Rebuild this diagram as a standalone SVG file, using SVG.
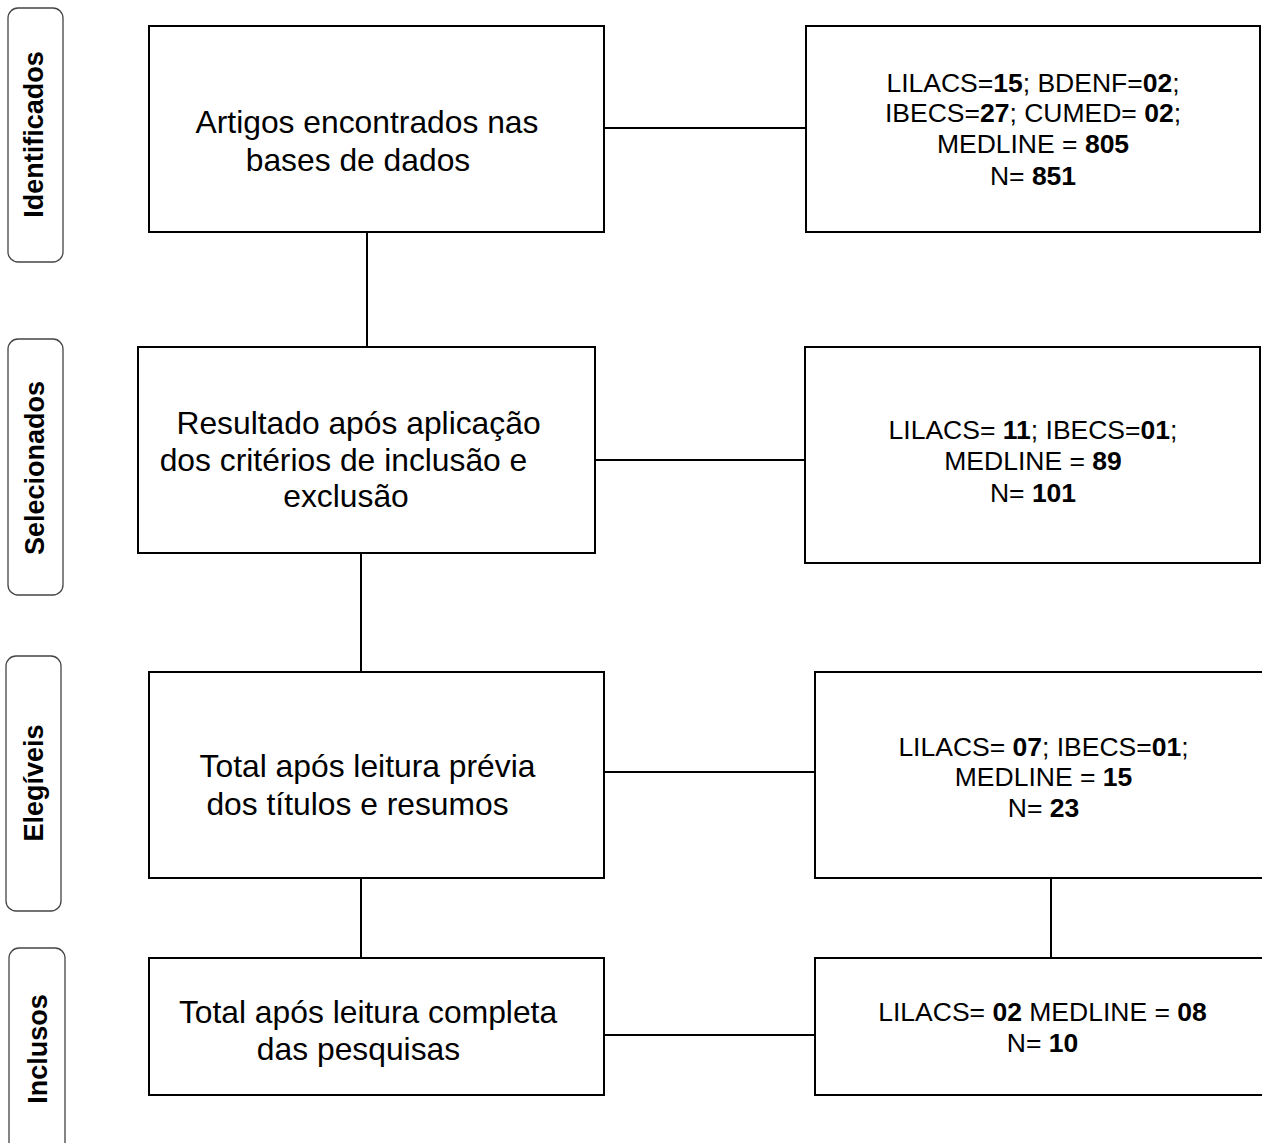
<svg xmlns="http://www.w3.org/2000/svg" width="1262" height="1143" viewBox="0 0 1262 1143">
<style>
.lbl{fill:#fff;stroke:#444;stroke-width:1.3}
.box{fill:#fff;stroke:#000;stroke-width:2}
.ln{stroke:#000;stroke-width:2;fill:none}
.side{font-family:"Liberation Sans",Arial,sans-serif;font-size:27px;font-weight:bold;fill:#000;text-anchor:middle}
.main{font-family:"Liberation Sans",Arial,sans-serif;font-size:31.8px;fill:#000;text-anchor:middle}
.num{font-family:"Liberation Sans",Arial,sans-serif;font-size:26.5px;fill:#000;text-anchor:middle}
.b{font-weight:bold}
</style>
<rect width="1262" height="1143" fill="#fff"/>
<g id="connectors">
<line class="ln" x1="604" y1="128" x2="806" y2="128"/>
<line class="ln" x1="595" y1="460" x2="805" y2="460"/>
<line class="ln" x1="604" y1="772" x2="815" y2="772"/>
<line class="ln" x1="604" y1="1035" x2="815" y2="1035"/>
<line class="ln" x1="367" y1="232" x2="367" y2="347"/>
<line class="ln" x1="361" y1="553" x2="361" y2="672"/>
<line class="ln" x1="361" y1="878" x2="361" y2="958"/>
<line class="ln" x1="1051" y1="878" x2="1051" y2="958"/>
</g>
<g id="label-identificados">
<rect class="lbl" x="8" y="8" width="55" height="254" rx="10"/>
<text class="side" transform="translate(43,134.5) rotate(-90)">Identificados</text>
</g>
<g id="label-selecionados">
<rect class="lbl" x="8" y="339" width="55" height="256" rx="10"/>
<text class="side" transform="translate(43.5,468) rotate(-90)">Selecionados</text>
</g>
<g id="label-elegiveis">
<rect class="lbl" x="6" y="656" width="55" height="255" rx="10"/>
<text class="side" transform="translate(42.5,783) rotate(-90)">Elegíveis</text>
</g>
<g id="label-inclusos">
<rect class="lbl" x="9" y="948" width="56" height="210" rx="10"/>
<text class="side" transform="translate(46.5,1049) rotate(-90)">Inclusos</text>
</g>
<g id="box-artigos">
<rect class="box" x="149" y="26" width="455" height="206"/>
<text class="main" x="367" y="133">Artigos encontrados nas</text>
<text class="main" x="358" y="171">bases de dados</text>
</g>
<g id="box-resultado">
<rect class="box" x="138" y="347" width="457" height="206"/>
<text class="main" x="358.5" y="434">Resultado após aplicação</text>
<text class="main" x="343.5" y="471">dos critérios de inclusão e</text>
<text class="main" x="346" y="507">exclusão</text>
</g>
<g id="box-total-previa">
<rect class="box" x="149" y="672" width="455" height="206"/>
<text class="main" x="367.5" y="777">Total após leitura prévia</text>
<text class="main" x="357.5" y="815">dos títulos e resumos</text>
</g>
<g id="box-total-completa">
<rect class="box" x="149" y="958" width="455" height="137"/>
<text class="main" x="368" y="1023">Total após leitura completa</text>
<text class="main" x="358.5" y="1060">das pesquisas</text>
</g>
<g id="box-n851">
<rect class="box" x="806" y="26" width="454" height="206"/>
<text class="num" x="1033" y="92">LILACS=<tspan class="b">15</tspan>; BDENF=<tspan class="b">02</tspan>;</text>
<text class="num" x="1033" y="122">IBECS=<tspan class="b">27</tspan>; CUMED= <tspan class="b">02</tspan>;</text>
<text class="num" x="1033" y="153">MEDLINE = <tspan class="b">805</tspan></text>
<text class="num" x="1033" y="185">N= <tspan class="b">851</tspan></text>
</g>
<g id="box-n101">
<rect class="box" x="805" y="347" width="455" height="216"/>
<text class="num" x="1033" y="439">LILACS= <tspan class="b">11</tspan>; IBECS=<tspan class="b">01</tspan>;</text>
<text class="num" x="1033" y="470">MEDLINE = <tspan class="b">89</tspan></text>
<text class="num" x="1033" y="502">N= <tspan class="b">101</tspan></text>
</g>
<g id="box-n23">
<rect class="box" x="815" y="672" width="460" height="206"/>
<text class="num" x="1043.5" y="756">LILACS= <tspan class="b">07</tspan>; IBECS=<tspan class="b">01</tspan>;</text>
<text class="num" x="1043.5" y="786">MEDLINE = <tspan class="b">15</tspan></text>
<text class="num" x="1043.5" y="817">N= <tspan class="b">23</tspan></text>
</g>
<g id="box-n10">
<rect class="box" x="815" y="958" width="460" height="137"/>
<text class="num" x="1042.5" y="1021">LILACS= <tspan class="b">02</tspan> MEDLINE = <tspan class="b">08</tspan></text>
<text class="num" x="1042.5" y="1052">N= <tspan class="b">10</tspan></text>
</g>
</svg>
